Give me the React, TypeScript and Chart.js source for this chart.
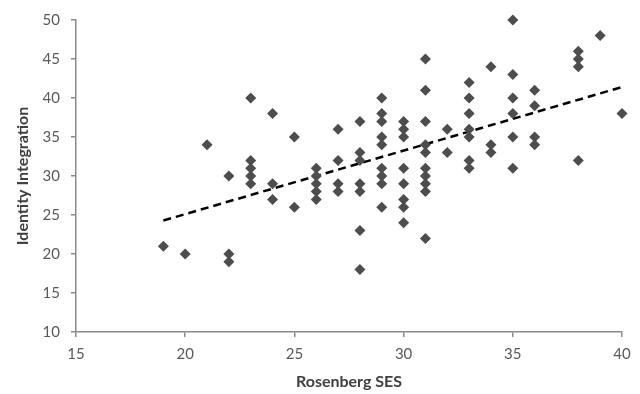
import React, { useEffect, useRef } from "react";
import { Chart, registerables } from "chart.js";

Chart.register(...registerables);

// Rosenberg SES (x) and Identity Integration (y), paired by index
const sesValues: number[] = [
  19, 20, 21,
  22, 22, 22,
  23, 23, 23, 23, 23,
  24, 24, 24,
  25, 25,
  26, 26, 26, 26, 26,
  27, 27, 27, 27,
  28, 28, 28, 28, 28, 28, 28,
  29, 29, 29, 29, 29, 29, 29, 29, 29,
  30, 30, 30, 30, 30, 30, 30, 30,
  31, 31, 31, 31, 31, 31, 31, 31, 31, 31,
  32, 32,
  33, 33, 33, 33, 33, 33, 33,
  34, 34, 34,
  35, 35, 35, 35, 35, 35,
  36, 36, 36, 36,
  38, 38, 38, 38,
  39, 40,
];
const identityValues: number[] = [
  21, 20, 34,
  30, 20, 19,
  40, 32, 31, 30, 29,
  38, 29, 27,
  35, 26,
  31, 30, 29, 28, 27,
  36, 32, 29, 28,
  37, 33, 32, 29, 28, 23, 18,
  40, 38, 37, 35, 34, 31, 30, 29, 26,
  37, 36, 35, 31, 29, 27, 26, 24,
  45, 41, 37, 34, 33, 31, 30, 29, 28, 22,
  36, 33,
  42, 40, 38, 36, 35, 32, 31,
  44, 34, 33,
  50, 43, 40, 38, 35, 31,
  41, 39, 35, 34,
  46, 45, 44, 32,
  48, 38,
];

// Trendline end points
const trendX: number[] = [19, 40];
const trendY: number[] = [24.3, 41.4];

const xTicks: number[] = [15, 20, 25, 30, 35, 40];
const yTicks: number[] = [10, 15, 20, 25, 30, 35, 40, 45, 50];

const xTitle = "Rosenberg SES";
const yTitle = "Identity Integration";

export default function App() {
  const ref = useRef<HTMLCanvasElement | null>(null);

  useEffect(() => {
    document.body.style.margin = "0";
    const canvas = ref.current;
    if (!canvas) return;

    const points = sesValues.map((x, i) => ({ x, y: identityValues[i] }));
    const trend = trendX.map((x, i) => ({ x, y: trendY[i] }));

    const tickFont = { family: "Lato, 'Open Sans', sans-serif", size: 15 };
    const titleFont = { family: "Lato, 'Open Sans', sans-serif", size: 16, weight: "bold" as const };
    const axisColor = "#8a8a8a";
    const labelColor = "#595959";

    const chart = new Chart(canvas, {
      type: "scatter",
      data: {
        datasets: [
          {
            type: "scatter",
            label: "data",
            data: points,
            pointStyle: "rectRot",
            pointRadius: 5.5,
            pointHoverRadius: 5.5,
            backgroundColor: "#4d4d4d",
            borderColor: "#4d4d4d",
            borderWidth: 0,
            clip: false,
          },
          {
            type: "line",
            label: "trend",
            data: trend,
            borderColor: "#000000",
            borderWidth: 2.5,
            borderDash: [8, 5],
            pointRadius: 0,
            fill: false,
            clip: false,
          },
        ],
      },
      options: {
        responsive: false,
        animation: false,
        layout: { padding: { left: 0, right: 18, top: 16, bottom: 0 } },
        plugins: {
          legend: { display: false },
          tooltip: { enabled: false },
        },
        scales: {
          x: {
            type: "linear",
            min: 15,
            max: 40,
            afterBuildTicks: (s: any) => {
              s.ticks = xTicks.map((v) => ({ value: v }));
            },
            afterFit: (s: any) => {
              s.height = 62;
            },
            ticks: {
              color: labelColor,
              font: tickFont,
              padding: 8,
              maxRotation: 0,
            },
            grid: {
              display: true,
              drawOnChartArea: false,
              drawTicks: true,
              tickLength: 5,
              color: axisColor,
              lineWidth: 1.5,
            },
            border: { display: true, color: axisColor, width: 1.5 },
            title: {
              display: true,
              text: xTitle,
              color: "#404040",
              font: titleFont,
              padding: { top: 0, bottom: 3 },
            },
          },
          y: {
            type: "linear",
            min: 10,
            max: 50,
            afterBuildTicks: (s: any) => {
              s.ticks = yTicks.map((v) => ({ value: v }));
            },
            afterFit: (s: any) => {
              s.width = 76;
            },
            ticks: {
              color: labelColor,
              font: tickFont,
              padding: 11,
            },
            grid: {
              display: true,
              drawOnChartArea: false,
              drawTicks: true,
              tickLength: 5,
              color: axisColor,
              lineWidth: 1.5,
            },
            border: { display: true, color: axisColor, width: 1.5 },
            title: {
              display: true,
              text: yTitle,
              color: "#404040",
              font: titleFont,
              padding: { top: 13, bottom: 0 },
            },
          },
        },
      },
    });

    return () => chart.destroy();
  }, []);

  return (
    <div style={{ width: 640, height: 394 }}>
      <canvas ref={ref} width={640} height={394} />
    </div>
  );
}
